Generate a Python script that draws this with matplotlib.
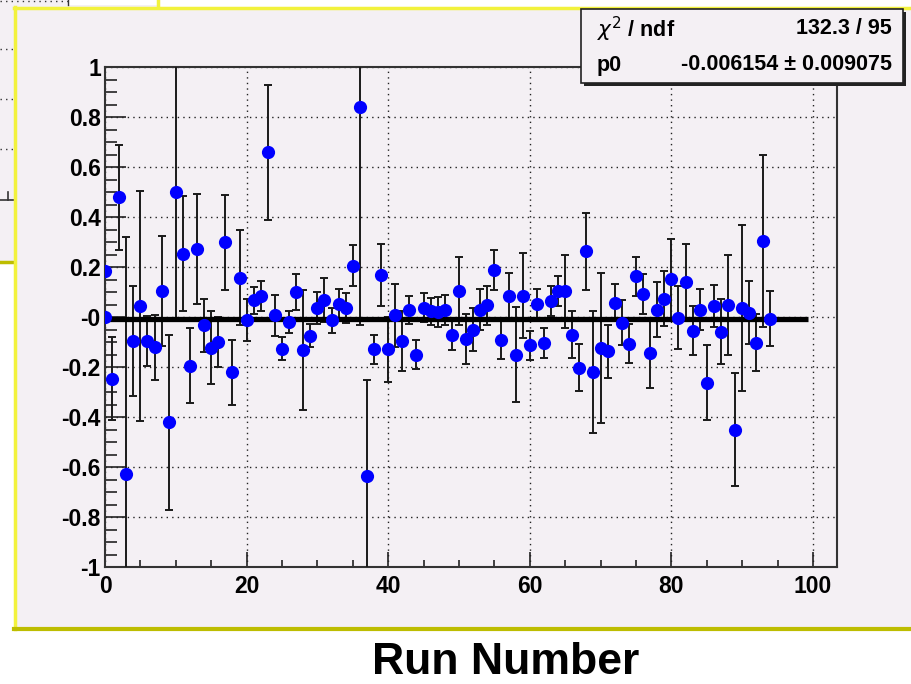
import matplotlib
matplotlib.use("Agg")
import matplotlib.pyplot as plt
from matplotlib.patches import Rectangle
from matplotlib.lines import Line2D
import numpy as np

# ---------------- data ----------------
runs = [0, 0] + list(range(1, 95))
values = [0.183, 0.0,
          -0.246, 0.48, -0.626, -0.097, 0.043, -0.097, -0.12, 0.105, -0.42, 0.50,
          0.254, -0.195, 0.274, -0.033, -0.123, -0.10, 0.30, -0.22, 0.158, -0.013,
          0.067, 0.085, 0.66, 0.007, -0.126, -0.02, 0.10, -0.133, -0.075, 0.037,
          0.067, -0.013, 0.054, 0.037, 0.205, 0.84, -0.637, -0.129, 0.167, -0.129,
          0.007, -0.097, 0.03, -0.15, 0.037, 0.023, 0.021, 0.03, -0.07, 0.105,
          -0.086, -0.05, 0.03, 0.047, 0.19, -0.09, 0.085, -0.15, 0.085, -0.113,
          0.054, -0.102, 0.063, 0.103, 0.103, -0.07, -0.202, 0.263, -0.219, -0.123,
          -0.137, 0.058, -0.023, -0.106, 0.163, 0.094, -0.143, 0.03, 0.074, 0.151,
          -0.002, 0.141, -0.055, 0.03, -0.262, 0.045, -0.059, 0.047, -0.45, 0.037,
          0.018, -0.102, 0.305, -0.006]
errors = [0.0, 0.0,
          0.167, 0.21, 0.946, 0.22, 0.46, 0.10, 0.13, 0.22, 0.35, 0.51,
          0.23, 0.15, 0.22, 0.107, 0.146, 0.10, 0.19, 0.13, 0.19, 0.084,
          0.055, 0.06, 0.27, 0.083, 0.047, 0.045, 0.073, 0.24, 0.046, 0.064,
          0.088, 0.05, 0.06, 0.06, 0.082, 0.87, 0.385, 0.057, 0.124, 0.13,
          0.127, 0.12, 0.056, 0.058, 0.058, 0.055, 0.06, 0.06, 0.063, 0.135,
          0.10, 0.085, 0.082, 0.077, 0.08, 0.077, 0.09, 0.19, 0.17, 0.057,
          0.058, 0.06, 0.06, 0.06, 0.145, 0.095, 0.094, 0.154, 0.244, 0.30,
          0.107, 0.075, 0.09, 0.077, 0.078, 0.08, 0.14, 0.11, 0.11, 0.16,
          0.127, 0.15, 0.098, 0.083, 0.15, 0.085, 0.13, 0.20, 0.227, 0.333,
          0.125, 0.113, 0.345, 0.111]

fit_p0 = -0.006154
fit_p0_err = 0.009075
chi2_text = "132.3 / 95"
fit_range = [0, 99.3]

x_ticks = [0, 20, 40, 60, 80, 100]
x_ticklabels = ["0", "20", "40", "60", "80", "100"]
y_ticks = [-1, -0.8, -0.6, -0.4, -0.2, 0, 0.2, 0.4, 0.6, 0.8, 1]
y_ticklabels = ["-1", "-0.8", "-0.6", "-0.4", "-0.2", "-0", "0.2", "0.4", "0.6", "0.8", "1"]
x_label = "Run Number"

# ---------------- figure ----------------
W, H = 911, 684
plt.rcParams['font.family'] = ['Liberation Sans', 'DejaVu Sans']
plt.rcParams['mathtext.fontset'] = 'dejavusans'
fig = plt.figure(figsize=(W / 100, H / 100), dpi=100)
fig.patch.set_facecolor('white')

PAD = '#F4F0F4'
YEL = '#F2F23C'
OLV = '#BDBD00'


def fx(px):
    return px / W


def fy(py):
    return 1 - py / H


def frect(x0, y0, x1, y1, **kw):
    fig.add_artist(Rectangle((fx(x0), fy(y1)), fx(x1) - fx(x0), fy(y0) - fy(y1),
                             transform=fig.transFigure, **kw))


def fline(xs, ys, **kw):
    fig.add_artist(Line2D([fx(x) for x in xs], [fy(y) for y in ys],
                          transform=fig.transFigure, **kw))


# background slide panel (partially hidden)
frect(0, 0, 157, 262, facecolor=PAD, edgecolor='none', zorder=0)
fline([157.5, 157.5], [0, 8], color=YEL, lw=2.5, zorder=0.5)
fline([0, 14], [261.5, 261.5], color=OLV, lw=2.5, zorder=0.5)
for yy in [49, 99, 149]:
    fline([0, 14], [yy, yy], color='#333333', lw=1, ls=(0, (1, 3)), zorder=0.5)
fline([0, 68], [1, 1], color='#333333', lw=1, ls=(0, (1, 3)), zorder=0.5)
fline([68, 68], [0, 5], color='#333333', lw=1, zorder=0.5)
frect(68.5, 0, 157, 4.5, facecolor='white', edgecolor='none', zorder=0.4)
fline([0, 14], [200, 200], color='#333333', lw=1.2, zorder=0.5)
fline([8, 8], [192, 200], color='#333333', lw=1.2, zorder=0.5)

# main canvas
frect(14, 7, 911, 629, facecolor=PAD, edgecolor='none', zorder=1)
fline([15, 15], [7, 629], color=YEL, lw=2.5, zorder=1.5)
fline([14, 911], [8, 8], color=YEL, lw=2.5, zorder=1.5)
fline([14, 911], [629, 629], color=OLV, lw=3, zorder=1.5)

# axes
ax = fig.add_axes([fx(105), fy(567), fx(837) - fx(105), fy(67) - fy(567)])
ax.set_facecolor(PAD)
ax.set_zorder(2)
ax.set_xlim(0, 103.4)
ax.set_ylim(-1, 1)

ax.set_xticks(x_ticks)
ax.set_xticklabels(x_ticklabels)
ax.set_yticks(y_ticks)
ax.set_yticklabels(y_ticklabels)
ax.set_xticks(np.arange(0, 104, 5), minor=True)
ax.set_yticks(np.arange(-1, 1.001, 0.05), minor=True)

ax.tick_params(axis='both', which='both', direction='in', colors='#222222',
               top=False, right=False, width=1.2)
ax.tick_params(axis='x', which='major', length=10.8, pad=6)
ax.tick_params(axis='x', which='minor', length=5)
ax.tick_params(axis='y', which='major', length=15, pad=3)
ax.tick_params(axis='y', which='minor', length=8.5)
for lab in ax.get_xticklabels() + ax.get_yticklabels():
    lab.set_fontweight('bold')
    lab.set_fontsize(16.5)
    lab.set_color('black')

for s in ax.spines.values():
    s.set_linewidth(1.5)
    s.set_color('#333333')

ax.grid(True, which='major', color='#222222', lw=1.0, ls=(0, (1, 3)))
ax.set_axisbelow(True)

ax.errorbar(runs, values, yerr=errors, fmt='none', ecolor='#1a1a1a',
            elinewidth=1.4, capsize=3.2, capthick=1.4, zorder=3)
ax.plot(fit_range, [fit_p0, fit_p0], color='black', lw=3.8, zorder=4,
        solid_capstyle='butt')
ax.plot(runs, values, 'o', color='#0000FF', markersize=9.5, markeredgewidth=0,
        zorder=5)

# stats box
frect(584, 12, 906, 86, facecolor='#222222', edgecolor='none', zorder=9)
frect(581, 9, 903, 83, facecolor=PAD, edgecolor='#222222', lw=1.2, zorder=10)
SFS = 15.5
fig.text(fx(597), fy(29), r'$\chi^{2}$ / ndf', fontsize=SFS, fontweight='bold',
         ha='left', va='center', zorder=11)
fig.text(fx(892), fy(29), chi2_text, fontsize=SFS, fontweight='bold',
         ha='right', va='center', zorder=11)
fig.text(fx(597), fy(65), 'p0', fontsize=SFS, fontweight='bold',
         ha='left', va='center', zorder=11)
fig.text(fx(892), fy(65), f'{fit_p0:.6f} \u00b1 {fit_p0_err:.6f}', fontsize=SFS,
         fontweight='bold', ha='right', va='center', zorder=11)

# x label
fig.text(fx(506), fy(683), x_label, fontsize=32, fontweight='bold',
         ha='center', va='bottom', zorder=11)

fig.savefig('out.png', dpi=100, facecolor='white')
